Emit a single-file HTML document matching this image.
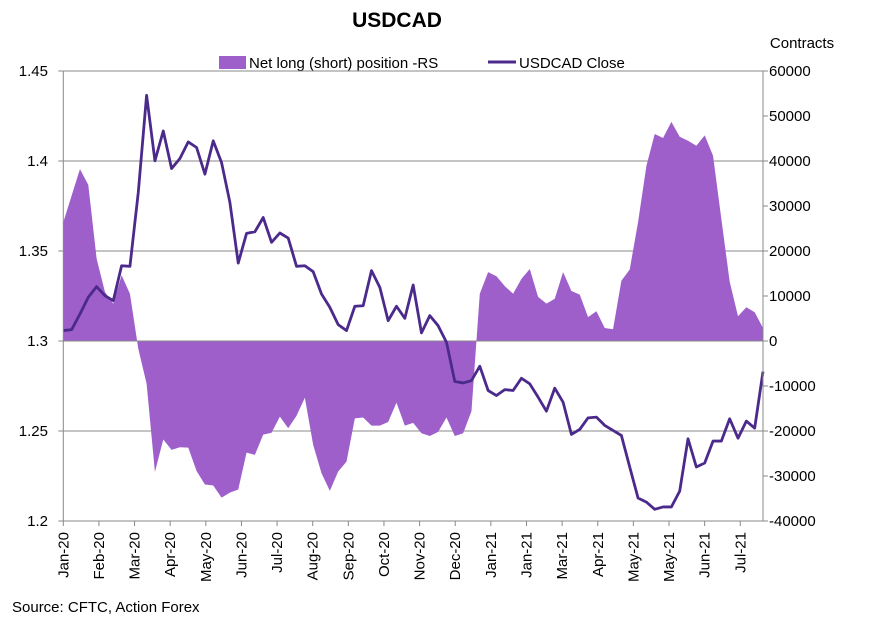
<!DOCTYPE html>
<html><head><meta charset="utf-8"><style>
html,body{margin:0;padding:0;background:#fff;}
svg{display:block;font-family:"Liberation Sans",sans-serif;}
</style></head><body>
<svg id="chart" width="874" height="624">
<text x="397" y="27" text-anchor="middle" font-size="21" font-weight="bold">USDCAD</text>
<text x="802" y="48" text-anchor="middle" font-size="15">Contracts</text>
<g>
<rect x="219" y="56" width="27" height="13" fill="#9E5FCB"></rect>
<text x="249" y="68" font-size="15">Net long (short) position -RS</text>
<line x1="488" y1="62" x2="516" y2="62" stroke="#4B2A8C" stroke-width="3"></line>
<text x="519" y="68" font-size="15">USDCAD Close</text>
</g>
<g id="grid"></g>
<g id="series"></g>
<g id="axes"></g>
<text x="12" y="612" font-size="15">Source: CFTC, Action Forex</text>
</svg>
<script>
const xLabels=["Jan-20","Feb-20","Mar-20","Apr-20","May-20","Jun-20","Jul-20","Aug-20","Sep-20","Oct-20","Nov-20","Dec-20","Jan-21","Jan-21","Mar-21","Apr-21","May-21","May-21","Jun-21","Jul-21"];
const leftTicks=[1.2,1.25,1.3,1.35,1.4,1.45];
const rightTicks=[-40000,-30000,-20000,-10000,0,10000,20000,30000,40000,50000,60000];
const closeValues=[1.3058,1.3063,1.3150,1.3243,1.3302,1.3252,1.3224,1.3418,1.3415,1.3825,1.4365,1.4001,1.4167,1.3958,1.4014,1.4106,1.4075,1.3927,1.4112,1.3991,1.3770,1.3433,1.3598,1.3607,1.3686,1.3548,1.3600,1.3572,1.3415,1.3418,1.3385,1.3261,1.3187,1.3091,1.3058,1.3193,1.3196,1.3391,1.3298,1.3113,1.3193,1.3126,1.3311,1.3045,1.3141,1.3085,1.2993,1.2775,1.2767,1.2780,1.2860,1.2725,1.2697,1.2730,1.2725,1.2793,1.2762,1.2688,1.2610,1.2738,1.2660,1.2481,1.2509,1.2573,1.2577,1.2531,1.2503,1.2475,1.2300,1.2128,1.2105,1.2065,1.2078,1.2078,1.2166,1.2457,1.2300,1.2322,1.2444,1.2444,1.2568,1.2460,1.2555,1.2516,1.2830];
const positionValues=[26400,32300,38200,34700,18300,10900,8300,14600,10500,-1700,-9500,-29100,-21900,-24200,-23600,-23700,-28900,-31900,-32100,-34800,-33700,-33000,-24800,-25300,-20800,-20400,-16800,-19400,-16600,-12600,-23100,-29400,-33300,-29000,-26800,-17200,-17000,-18800,-18800,-18000,-13700,-18800,-18200,-20500,-21100,-20200,-17000,-21100,-20500,-15600,10500,15300,14400,12200,10500,13800,16000,9800,8300,9400,15300,11100,10300,5300,6600,2900,2600,13400,15900,26400,38900,46000,45100,48700,45400,44500,43400,45700,41200,27100,13200,5500,7500,6400,2900];

const NS="http://www.w3.org/2000/svg";
const L=63.3,R=763,T=71,B=521;
const n=closeValues.length;
const xPos=i=>L+(R-L)*i/(n-1);
const yL=v=>T+(1.45-v)/(0.25)*(B-T);
const yR=v=>T+(60000-v)/100000*(B-T);
function mk(tag,attrs,parent){const e=document.createElementNS(NS,tag);for(const k in attrs)e.setAttribute(k,attrs[k]);parent.appendChild(e);return e;}
const grid=document.getElementById('grid'),series=document.getElementById('series'),axes=document.getElementById('axes');

leftTicks.forEach(v=>{
  const y=yL(v);
  if(v>1.2){const g=mk('line',{x1:L,x2:R,y1:y,y2:y,stroke:'#888','stroke-width':1},grid);
  
  }
  const t=mk('line',{x1:L-5,x2:L,y1:y,y2:y,stroke:'#888'},axes);
  
  
  const tx=mk('text',{x:48,y:y+5,'text-anchor':'end','font-size':15},axes);
  tx.textContent=String(v);
  
  
});
rightTicks.forEach(v=>{
  const y=yR(v);
  const t=mk('line',{x1:R,x2:R+5,y1:y,y2:y,stroke:'#888'},axes);
  
  
  const tx=mk('text',{x:769,y:y+5,'font-size':15},axes);
  tx.textContent=String(v);
  
  
});

let d='M'+xPos(0)+','+yR(0);
positionValues.forEach((v,i)=>{d+=' L'+xPos(i).toFixed(2)+','+yR(v).toFixed(2);});
d+=' L'+xPos(n-1)+','+yR(0)+' Z';
const area=mk('path',{d:d,fill:'#9E5FCB'},series);


const zl=mk('line',{x1:L,x2:R,y1:yR(0),y2:yR(0),stroke:'#888'},series);


const pts=closeValues.map((v,i)=>xPos(i).toFixed(2)+','+yL(v).toFixed(2)).join(' ');
const pl=mk('polyline',{points:pts,fill:'none',stroke:'#4B2A8C','stroke-width':2.8,'stroke-linejoin':'round'},series);



const la=mk('line',{x1:L,x2:L,y1:T,y2:B,stroke:'#888'},axes);


const ra=mk('line',{x1:R,x2:R,y1:T,y2:B,stroke:'#888'},axes);


const ba=mk('line',{x1:L,x2:R,y1:B,y2:B,stroke:'#888'},axes);


const step=35.63;
xLabels.forEach((lab,k)=>{
  const x=L+k*step;
  const t=mk('line',{x1:x,x2:x,y1:B,y2:B+5,stroke:'#888'},axes);
  
  
  const tx=mk('text',{x:0,y:0,'text-anchor':'end','font-size':15,transform:'translate('+(x+5)+',532) rotate(-90)'},axes);
  tx.textContent=lab;
  
  
});
</script>
</body></html>
